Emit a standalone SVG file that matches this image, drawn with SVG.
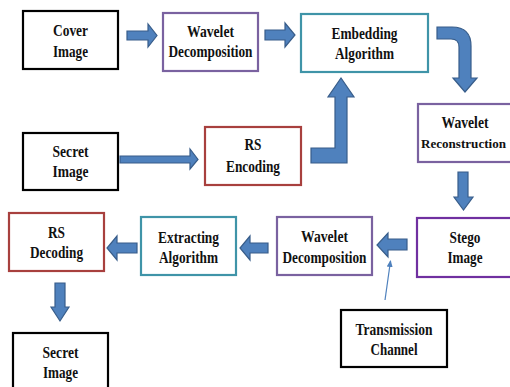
<svg xmlns="http://www.w3.org/2000/svg" width="510" height="387" viewBox="0 0 510 387">
<style>
.box{fill:#fff;stroke-width:2.2}
.blk{stroke:#000}
.pur{stroke:#7a62a0}
.teal{stroke:#3f94a8}
.red{stroke:#a8403e}
.vio{stroke:#7030a0}
text{font-family:"Liberation Serif","Times New Roman",serif;font-weight:bold;font-size:16.5px;text-anchor:middle;fill:#111}
.arr{fill:#4f81bd;stroke:#385d8a;stroke-width:1.2}
</style>
<defs>
<marker id="ah" markerWidth="8" markerHeight="8" refX="6" refY="4" orient="auto" markerUnits="userSpaceOnUse">
<path d="M0,1 L7,4 L0,7 Z" fill="#4f81bd"/>
</marker>
</defs>
<rect width="510" height="387" fill="#fff"/>
<g id="cover">
<rect class="box blk" x="23" y="11" width="95" height="58"/>
<text x="70.5" y="36" textLength="35" lengthAdjust="spacingAndGlyphs">Cover</text>
<text x="70.5" y="57" textLength="35" lengthAdjust="spacingAndGlyphs">Image</text>
</g>
<g id="wd1">
<rect class="box pur" x="163" y="13" width="95" height="58"/>
<text x="210.5" y="37" textLength="47" lengthAdjust="spacingAndGlyphs">Wavelet</text>
<text x="210.5" y="57" textLength="84" lengthAdjust="spacingAndGlyphs">Decomposition</text>
</g>
<g id="embed">
<rect class="box teal" x="301" y="14" width="127" height="58"/>
<text x="364.5" y="39" textLength="66" lengthAdjust="spacingAndGlyphs">Embedding</text>
<text x="364.5" y="59" textLength="59" lengthAdjust="spacingAndGlyphs">Algorithm</text>
</g>
<g id="secret1">
<rect class="box blk" x="23" y="133" width="95" height="57"/>
<text x="70.5" y="157" textLength="36" lengthAdjust="spacingAndGlyphs">Secret</text>
<text x="70.5" y="177" textLength="36" lengthAdjust="spacingAndGlyphs">Image</text>
</g>
<g id="rsenc">
<rect class="box red" x="205" y="127" width="96" height="58"/>
<text x="253" y="150" textLength="17" lengthAdjust="spacingAndGlyphs">RS</text>
<text x="253" y="172" textLength="54" lengthAdjust="spacingAndGlyphs">Encoding</text>
</g>
<g id="wrec">
<rect class="box pur" x="418" y="104" width="100" height="58"/>
<text x="465" y="128" textLength="47" lengthAdjust="spacingAndGlyphs">Wavelet</text>
<text x="463.5" y="148" style="font-size:13.5px" textLength="85" lengthAdjust="spacingAndGlyphs">Reconstruction</text>
</g>
<g id="stego">
<rect class="box vio" x="417" y="218" width="100" height="59"/>
<text x="465" y="243" textLength="31" lengthAdjust="spacingAndGlyphs">Stego</text>
<text x="465" y="263" textLength="35" lengthAdjust="spacingAndGlyphs">Image</text>
</g>
<g id="wd2">
<rect class="box pur" x="277" y="217" width="95" height="58"/>
<text x="324.5" y="242" textLength="47" lengthAdjust="spacingAndGlyphs">Wavelet</text>
<text x="324.5" y="263" textLength="84" lengthAdjust="spacingAndGlyphs">Decomposition</text>
</g>
<g id="trans">
<rect class="box blk" x="341" y="310" width="106" height="57"/>
<text x="394" y="335" textLength="77" lengthAdjust="spacingAndGlyphs">Transmission</text>
<text x="394" y="355" textLength="47" lengthAdjust="spacingAndGlyphs">Channel</text>
</g>
<g id="extract">
<rect class="box teal" x="141" y="217" width="95" height="58"/>
<text x="188.5" y="243" textLength="61" lengthAdjust="spacingAndGlyphs">Extracting</text>
<text x="188.5" y="263" textLength="59" lengthAdjust="spacingAndGlyphs">Algorithm</text>
</g>
<g id="rsdec">
<rect class="box red" x="9" y="213" width="95" height="58"/>
<text x="56.5" y="238" textLength="17" lengthAdjust="spacingAndGlyphs">RS</text>
<text x="56.5" y="258" textLength="53" lengthAdjust="spacingAndGlyphs">Decoding</text>
</g>
<g id="secret2">
<rect class="box blk" x="13" y="333" width="95" height="62"/>
<text x="60.5" y="358" textLength="36" lengthAdjust="spacingAndGlyphs">Secret</text>
<text x="60.5" y="378" textLength="35" lengthAdjust="spacingAndGlyphs">Image</text>
</g>
<g id="connectors">
<polygon class="arr" points="127,31 148,31 148,24 157,35.5 148,47 148,40 127,40"/>
<polygon class="arr" points="265,30 285,30 285,23 295,35 285,47 285,40 265,40"/>
<path class="arr" d="M437,27 L452,27 Q471,27 471,46 L471,78 L477,78 L465,92 L453,78 L459,78 L459,47 Q459,39 451,39 L437,39 Z"/>
<polygon class="arr" points="120,156 190,156 190,149 198,159.5 190,169 190,163 120,163"/>
<polygon class="arr" points="311,148 335,148 335,97 328,97 341,78 354,97 347,97 347,163 311,163"/>
<polygon class="arr" points="458,172 468,172 468,197 473,197 463.5,210 454,197 458,197"/>
<polygon class="arr" points="407,239 388,239 388,233 377,245 388,257 388,250 407,250"/>
<line x1="385" y1="300" x2="390.5" y2="261" stroke="#4f81bd" stroke-width="1.2" marker-end="url(#ah)"/>
<polygon class="arr" points="268,243 250,243 250,236 240,248 250,260 250,253 268,253"/>
<polygon class="arr" points="137,243 117,243 117,236 107,248 117,260 117,253 137,253"/>
<polygon class="arr" points="55,283 65,283 65,307 69,307 60,321 51,307 55,307"/>
</g>
</svg>
